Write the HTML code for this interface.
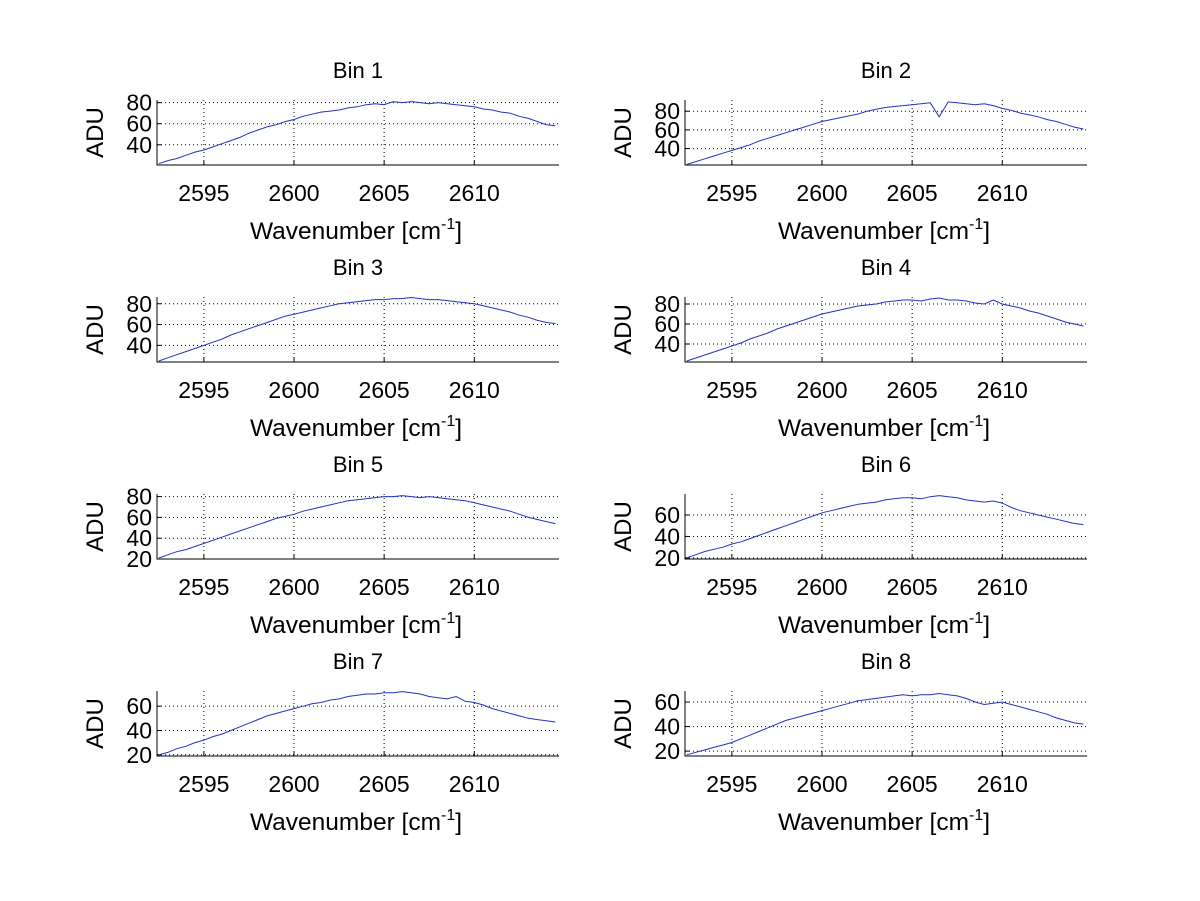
<!DOCTYPE html>
<html><head><meta charset="utf-8"><style>
html,body{margin:0;padding:0;background:#fff;}
svg{display:block;font-family:"Liberation Sans",Arial,sans-serif;}
</style></head><body>
<svg id="fig" width="1200" height="901" viewBox="0 0 1200 901"></svg>
<script>
const wavenumbers = [2592.5,2593,2593.5,2594,2594.5,2595,2595.5,2596,2596.5,2597,2597.5,2598,2598.5,2599,2599.5,2600,2600.5,2601,2601.5,2602,2602.5,2603,2603.5,2604,2604.5,2605,2605.5,2606,2606.5,2607,2607.5,2608,2608.5,2609,2609.5,2610,2610.5,2611,2611.5,2612,2612.5,2613,2613.5,2614,2614.5];
const bin1 = [22,25,27,30,33,35,38,41,44,47,51,54,57,59,62,64,67,69,71,72,73,75,76,78,79,78,81,80,81,80,79,80,79,78,77,76,74,73,71,70,67,65,62,59,58];
const bin2 = [23,26,29,32,35,38,41,44,48,51,54,57,60,63,66,69,71,73,75,77,80,82,84,85,86,87,88,89,74,90,89,88,87,88,86,83,81,78,76,74,71,69,66,63,61];
const bin3 = [25,28,31,34,37,40,43,46,50,53,56,59,62,65,68,70,72,74,76,78,80,81,82,83,84,84,85,85,86,85,84,84,83,82,81,80,78,76,74,72,69,67,64,62,61];
const bin4 = [23,26,29,32,35,38,41,45,48,51,55,58,61,64,67,70,72,74,76,78,79,80,82,83,84,84,83,85,86,84,84,83,81,80,84,80,78,76,73,71,68,65,62,60,58];
const bin5 = [21,24,27,29,32,35,38,41,44,47,50,53,56,59,61,63,66,68,70,72,74,76,77,78,79,80,80,81,80,79,80,79,78,77,76,74,72,70,68,66,63,60,58,56,54];
const bin6 = [20,23,26,28,30,33,35,38,41,44,47,50,53,56,59,62,64,66,68,70,71,72,74,75,76,76,75,77,78,77,76,74,73,72,73,71,67,64,62,60,58,56,54,52,51];
const bin7 = [20,22,25,27,30,32,35,37,40,43,46,49,52,54,56,58,60,62,63,65,66,68,69,70,70,71,71,72,71,70,68,67,66,68,64,63,61,58,56,54,52,50,49,48,47];
const bin8 = [17,19,21,23,25,27,30,33,36,39,42,45,47,49,51,53,55,57,59,61,62,63,64,65,66,65,66,66,67,66,65,63,60,58,59,60,58,56,54,52,50,47,45,43,42];
const xTicks = [2595,2600,2605,2610];
const yTicks1 = [40,60,80];
const yTicks2 = [20,40,60,80];
const yTicks3 = [20,40,60];

const NS="http://www.w3.org/2000/svg";
const svg=document.getElementById('fig');
function mk(tag,attrs,parent){const e=document.createElementNS(NS,tag);for(const k in attrs)e.setAttribute(k,attrs[k]);(parent||svg).appendChild(e);return e;}

const panels=[
 {t:'Bin 1',d:bin1,yt:yTicks1,ymin:20.8,ymax:82.5,col:0,row:0},
 {t:'Bin 2',d:bin2,yt:yTicks1,ymin:22.4,ymax:92,col:1,row:0},
 {t:'Bin 3',d:bin3,yt:yTicks1,ymin:24,ymax:86.5,col:0,row:1},
 {t:'Bin 4',d:bin4,yt:yTicks1,ymin:22,ymax:87,col:1,row:1},
 {t:'Bin 5',d:bin5,yt:yTicks2,ymin:20,ymax:82.5,col:0,row:2},
 {t:'Bin 6',d:bin6,yt:yTicks3,ymin:19,ymax:79.5,col:1,row:2},
 {t:'Bin 7',d:bin7,yt:yTicks3,ymin:19,ymax:72.5,col:0,row:3},
 {t:'Bin 8',d:bin8,yt:yTicks3,ymin:16,ymax:69,col:1,row:3}
];
const xmin=2592.4,xmax=2614.7;
panels.forEach((p,i)=>{
  const L=p.col?685:157,R=L+402,T=100+p.row*197,B=T+65;
  const g=mk('g',{});
  
  
  const sx=v=>L+(v-xmin)/(xmax-xmin)*(R-L);
  const sy=v=>B-(v-p.ymin)/(p.ymax-p.ymin)*(B-T);
  xTicks.forEach(v=>{
    const x=sx(v);
    const gl=mk('line',{x1:x,x2:x,y1:T,y2:B,stroke:'#000','stroke-width':1,'stroke-dasharray':'1,3'},g);
    
    
    mk('line',{x1:x,x2:x,y1:B,y2:B-4,stroke:'#000','stroke-width':1},g);
    const tl=mk('text',{x:x,y:B+36,'font-size':23,'text-anchor':'middle',fill:'#000'},g);
    tl.textContent=v;
    
    
  });
  p.yt.forEach(v=>{
    const y=sy(v);
    const gl=mk('line',{x1:L,x2:R,y1:y,y2:y,stroke:'#000','stroke-width':1,'stroke-dasharray':'1,3'},g);
    
    
    mk('line',{x1:L,x2:L+4,y1:y,y2:y,stroke:'#000','stroke-width':1},g);
    const tl=mk('text',{x:L-5,y:y+8,'font-size':23,'text-anchor':'end',fill:'#000'},g);
    tl.textContent=v;
    
    
  });
  const ax=mk('path',{d:`M${L},${T}V${B}H${R}`,fill:'none',stroke:'#000','stroke-width':1},g);
  
  
  let dd='';
  p.d.forEach((v,j)=>{dd+=(j?'L':'M')+sx(wavenumbers[j]).toFixed(1)+','+sy(v).toFixed(1);});
  const ln=mk('path',{d:dd,fill:'none',stroke:'#2233c0','stroke-width':1},g);
  
  
  const tt=mk('text',{x:(L+R)/2,y:T-22,'font-size':22,'text-anchor':'middle',fill:'#000'},g);
  tt.textContent=p.t;
  
  
  const xl=mk('text',{x:(L+R)/2-2,y:B+74,'font-size':24.5,'text-anchor':'middle',fill:'#000'},g);
  xl.innerHTML='Wavenumber [cm<tspan dy="-10" font-size="16">-1</tspan><tspan dy="10">]</tspan>';
  
  
  const yx=L-54,yy=(T+B)/2;
  const yl=mk('text',{x:yx,y:yy,'font-size':24,'text-anchor':'middle',fill:'#000',transform:`rotate(-90 ${yx} ${yy})`},g);
  yl.textContent='ADU';
  
  
});
</script>
</body></html>
